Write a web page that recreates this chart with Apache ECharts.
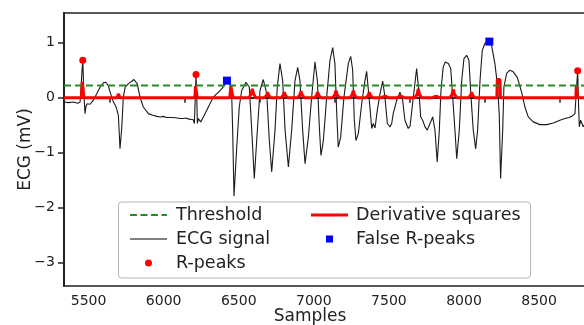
<!DOCTYPE html>
<html>
<head>
<meta charset="utf-8">
<script src="https://cdn.jsdelivr.net/npm/echarts@6/dist/echarts.min.js"></script>
<style>
html,body{margin:0;padding:0;background:#fff;}
#chart{width:584px;height:325px;}
</style>
</head>
<body>
<div id="chart"></div>
<script>
// ---- data (samples, mV) ----
var xTicks = [5500, 6000, 6500, 7000, 7500, 8000, 8500];
var yTicks = [-3, -2, -1, 0, 1];
var thresholdValue = 0.22;

var ecgSignal = [
  [5200,-0.08],[5230,-0.09],[5260,-0.08],[5290,-0.10],[5305,-0.08],[5310,0.10],[5318,0.50],[5323,0.68],
  [5330,0.10],[5338,-0.29],[5345,-0.15],[5352,-0.11],[5372,-0.12],[5393,-0.05],[5416,0.07],[5438,0.19],
  [5460,0.27],[5476,0.28],[5493,0.22],[5505,0.10],[5527,-0.08],[5545,-0.17],[5560,-0.32],[5571,-0.93],
  [5583,-0.53],[5593,0.01],[5605,0.19],[5626,0.25],[5649,0.30],[5664,0.33],[5686,0.25],[5704,0.01],
  [5726,-0.17],[5760,-0.29],[5790,-0.32],[5816,-0.34],[5840,-0.35],[5860,-0.34],[5880,-0.36],[5904,-0.36],
  [5930,-0.36],[5950,-0.37],[5970,-0.38],[5993,-0.38],[6010,-0.37],[6030,-0.39],[6059,-0.40],[6066,-0.47],
  [6072,0.00],[6077,0.42],[6082,0.00],[6086,-0.47],[6092,-0.38],[6099,-0.35],[6108,-0.44],[6126,-0.35],
  [6159,-0.17],[6192,0.01],[6237,0.13],[6265,0.22],[6285,0.30],[6303,0.28],[6315,0.01],[6321,-0.59],
  [6330,-1.79],[6348,-0.90],[6365,-0.17],[6381,0.13],[6410,0.28],[6432,0.19],[6448,-0.59],[6465,-1.47],
  [6481,-0.78],[6503,0.13],[6525,0.33],[6548,0.07],[6565,-0.78],[6581,-1.35],[6603,-0.59],[6618,0.19],
  [6636,0.62],[6654,0.31],[6670,-0.59],[6692,-1.26],[6714,-0.59],[6736,0.31],[6754,0.55],[6769,0.31],
  [6787,-0.59],[6803,-1.20],[6825,-0.72],[6847,0.01],[6869,0.65],[6885,0.31],[6898,-0.53],[6909,-1.05],
  [6925,-0.78],[6947,0.01],[6969,0.68],[6987,0.91],[7002,0.62],[7014,-0.29],[7024,-0.90],[7040,-0.72],
  [7062,0.01],[7091,0.62],[7107,0.75],[7120,0.50],[7131,-0.41],[7142,-0.78],[7158,-0.65],[7180,-0.11],
  [7202,0.31],[7213,0.48],[7229,0.01],[7247,-0.56],[7257,-0.47],[7269,-0.55],[7284,-0.23],[7302,0.07],
  [7320,0.30],[7335,0.01],[7351,-0.47],[7369,-0.53],[7380,-0.47],[7390,-0.29],[7413,-0.05],[7435,0.10],
  [7453,-0.05],[7468,-0.41],[7490,-0.56],[7502,-0.52],[7524,0.01],[7546,0.53],[7564,0.01],[7573,-0.35],
  [7586,-0.41],[7602,-0.53],[7617,-0.59],[7635,-0.47],[7653,-0.35],[7668,-0.59],[7683,-1.17],[7697,-0.59],
  [7708,0.13],[7723,0.56],[7737,0.65],[7757,0.62],[7773,0.53],[7786,0.01],[7801,-0.59],[7813,-1.11],
  [7830,-0.59],[7846,0.31],[7861,0.71],[7879,0.77],[7894,0.68],[7908,0.01],[7923,-0.59],[7939,-0.93],
  [7952,-0.59],[7968,0.31],[7983,0.86],[8001,0.99],[8025,1.03],[8045,0.95],[8067,0.62],[8083,0.25],
  [8096,-0.29],[8105,-1.47],[8119,-0.59],[8127,0.19],[8145,0.44],[8167,0.50],[8189,0.47],[8216,0.37],
  [8245,0.10],[8267,-0.17],[8289,-0.35],[8322,-0.44],[8367,-0.49],[8412,-0.49],[8456,-0.46],[8500,-0.41],
  [8533,-0.38],[8560,-0.36],[8578,-0.34],[8600,-0.29],[8611,-0.27],[8618,0.49],[8625,-0.20],[8629,-0.53],
  [8638,-0.41],[8655,-0.53],[8673,-0.45]
];

var derivativeSquares = [
  [5198,0],[5314,0],[5319,0.29],[5326,0.29],[5331,0],
  [5553,0],[5559,0.07],[5566,0.07],[5572,0],
  [6069,0],[6074,0.21],[6080,0.21],[6085,0],
  [6302,0],[6309,0.22],[6316,0.10],[6324,0],
  [6430,0],[6444,0.07],[6452,0.16],[6460,0.07],[6474,0],
  [6532,0],[6546,0.04],[6554,0.10],[6562,0.04],[6576,0],
  [6643,0],[6657,0.04],[6665,0.10],[6673,0.04],[6687,0],
  [6754,0],[6768,0.05],[6776,0.12],[6784,0.05],[6798,0],
  [6865,0],[6879,0.04],[6887,0.10],[6895,0.04],[6909,0],
  [6987,0],[7001,0.05],[7009,0.13],[7017,0.05],[7031,0],
  [7102,0],[7116,0.05],[7124,0.13],[7132,0.05],[7146,0],
  [7209,0],[7223,0.04],[7231,0.10],[7239,0.04],[7253,0],
  [7313,0],[7327,0.02],[7335,0.05],[7343,0.02],[7357,0],
  [7418,0],[7432,0.02],[7440,0.04],[7448,0.02],[7462,0],
  [7535,0],[7549,0.06],[7557,0.16],[7565,0.06],[7579,0],
  [7653,0],[7667,0.02],[7675,0.05],[7683,0.02],[7697,0],
  [7768,0],[7782,0.06],[7790,0.15],[7798,0.06],[7812,0],
  [7890,0],[7904,0.04],[7912,0.10],[7920,0.04],[7934,0],
  [8080,0],[8083,0.33],[8101,0.33],[8104,0],
  [8606,0],[8609,0.22],[8614,0.22],[8617,0],[8667,0]
];

var thresholdLine = [[5198, thresholdValue], [8667, thresholdValue]];
var rPeaks = [[5323,0.68],[6077,0.42],[8618,0.49]];
var falseRPeaks = [[6283,0.31],[8030,1.02]];

var FONT = 'DejaVu Sans';
var TXT = '#222';
function minus(v){ return v < 0 ? '\u2212' + Math.abs(v) : String(v); }

var chart = echarts.init(document.getElementById('chart'), null, {renderer:'canvas'});
chart.setOption({
  animation: false,
  backgroundColor: '#fff',
  textStyle: {fontFamily: FONT},
  grid: {left: 64, top: 13, right: -1, bottom: 39, containLabel: false, outerBoundsMode: 'none',
         show: true, borderColor: '#222', borderWidth: 1.5, backgroundColor: 'transparent'},
  xAxis: {
    type: 'value', min: 5198, max: 8667,
    axisLine: {show: true, lineStyle: {color: '#222', width: 2}},
    axisTick: {show: true, customValues: xTicks, length: 5, inside: false, lineStyle: {color: '#222', width: 1.5}},
    axisLabel: {customValues: xTicks, formatter: function(v){return String(v);}, align: 'right', padding: [0,3,0,0],
      fontSize: 14, margin: 8, color: TXT, fontFamily: FONT},
    splitLine: {show: false},
    name: 'Samples', nameLocation: 'middle', nameGap: 22, nameMoveOverlap: false,
    nameTextStyle: {fontSize: 17, color: TXT, fontFamily: FONT, padding: [0,29,0,0]}
  },
  yAxis: {
    type: 'value', min: -3.425, max: 1.54,
    axisLine: {show: true, lineStyle: {color: '#222', width: 2}},
    axisTick: {show: true, customValues: yTicks, length: 6, lineStyle: {color: '#222', width: 1.5}},
    axisLabel: {customValues: yTicks, formatter: minus, fontSize: 14, margin: 9, color: TXT, fontFamily: FONT},
    splitLine: {show: false},
    name: 'ECG (mV)', nameLocation: 'middle', nameGap: 30, nameRotate: 90, nameMoveOverlap: false,
    nameTextStyle: {fontSize: 17, color: TXT, fontFamily: FONT}
  },
  legend: [
    {left: 125, top: 201, orient: 'vertical', itemWidth: 37, itemHeight: 7, itemGap: 6,
     data: [
       {name: 'Threshold', icon: 'path://M0,0H7V2H0Z M10.5,0H17.5V2H10.5Z M21,0H28V2H21Z M31.5,0H37V2H31.5Z', itemStyle: {color: '#2a8a2a'}},
       {name: 'ECG signal', icon: 'path://M0,0H37V1.3H0Z', itemStyle: {color: '#555'}},
       {name: 'R-peaks', icon: 'circle', itemStyle: {color: '#ff0000'}}
     ],
     textStyle: {fontSize: 17.5, color: TXT, fontFamily: FONT, padding: [0,0,0,4]}, z: 10},
    {left: 306, top: 201, orient: 'vertical', itemWidth: 37, itemHeight: 7, itemGap: 6,
     data: [
       {name: 'Derivative squares', icon: 'path://M0,0H37V3H0Z', itemStyle: {color: '#ff0000'}},
       {name: 'False R-peaks', icon: 'path://M0,0H7V7H0Z', itemStyle: {color: '#0000ff'}}
     ],
     textStyle: {fontSize: 17.5, color: TXT, fontFamily: FONT, padding: [0,0,0,3]}, z: 10}
  ],
  graphic: [{
    type: 'rect', z: 5, silent: true,
    shape: {x: 118.5, y: 202, width: 412, height: 76, r: 3},
    style: {fill: 'rgba(255,255,255,0.85)', stroke: '#b5b5b5', lineWidth: 1}
  }],
  series: [
    {name: 'ECG signal', type: 'line', data: ecgSignal, symbol: 'none', z: 2,
     lineStyle: {color: '#1a1a1a', width: 1.1}, itemStyle: {color: '#555'}},
    {name: 'Derivative squares', type: 'line', data: derivativeSquares, symbol: 'none', z: 3,
     lineStyle: {color: '#ff0000', width: 3}, itemStyle: {color: '#ff0000'}},
    {name: 'Threshold', type: 'line', data: thresholdLine, symbol: 'none', z: 4,
     lineStyle: {color: '#2a8a2a', width: 2, type: [7,4]}, itemStyle: {color: '#2a8a2a'}},
    {name: 'R-peaks', type: 'scatter', data: rPeaks, symbol: 'circle', symbolSize: 7, z: 6,
     itemStyle: {color: '#ff0000', opacity: 1}},
    {name: 'False R-peaks', type: 'scatter', data: falseRPeaks, symbol: 'rect', symbolSize: 8, z: 6,
     itemStyle: {color: '#0000ff', opacity: 1}}
  ]
});
</script>
</body>
</html>
